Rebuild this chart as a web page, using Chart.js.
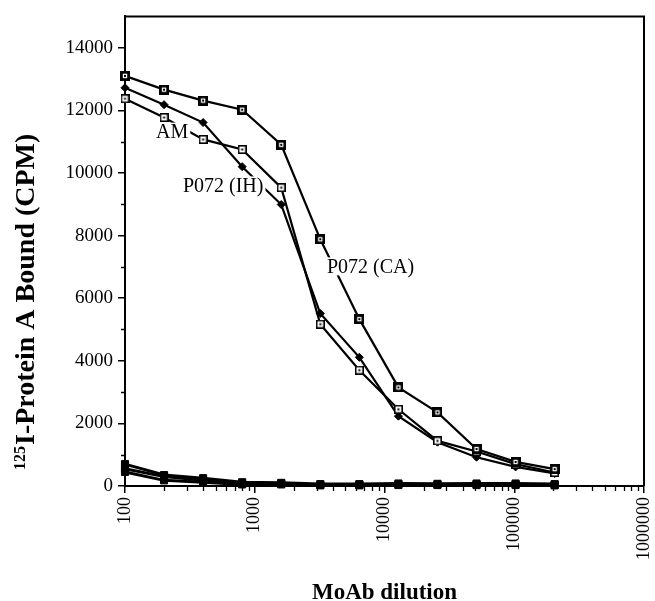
<!DOCTYPE html>
<html><head><meta charset="utf-8">
<script src="https://cdn.jsdelivr.net/npm/chart.js@4"></script>
<style>html,body{margin:0;padding:0;background:#fff}#wrap{width:655px;height:601px}</style>
</head><body><div id="wrap"><canvas id="c" width="655" height="601"></canvas></div>
<script>
// ---- data ----
const dilutions = [100, 200, 400, 800, 1600, 3200, 6400, 12800, 25600, 51200, 102400, 204800];
const p072CA = [13100, 12660, 12310, 12020, 10900, 7880, 5330, 3150, 2350, 1180, 770, 540];
const am     = [12370, 11770, 11070, 10750, 9530, 5170, 3700, 2450, 1440, 1100, 700, 430];
const p072IH = [12720, 12180, 11610, 10200, 8990, 5510, 4110, 2230, 1400, 920, 610, 400];
const control1 = [700, 350, 250, 120, 100, 60, 60, 80, 70, 80, 80, 60];
const control2 = [550, 300, 180, 80, 80, 40, 40, 50, 50, 50, 50, 40];
const control3 = [450, 180, 120, 50, 50, 20, 20, 30, 30, 30, 30, 20];
const xTickValues = [100, 1000, 10000, 100000, 1000000];
const yTickValues = [0, 2000, 4000, 6000, 8000, 10000, 12000, 14000];
const seriesNames = ['P072 (CA)', 'AM', 'P072 (IH)', 'Control 1', 'Control 2', 'Control 3'];
const xTitle = 'MoAb dilution';
const yTitleSup = '125';
const yTitleMain = 'I-Protein A Bound (CPM)';

// ---- marker styles ----
function boxMarker(size, lw, dot) {
  const c = document.createElement('canvas');
  c.width = size; c.height = size;
  const g = c.getContext('2d');
  g.fillStyle = '#fff'; g.fillRect(0, 0, size, size);
  g.strokeStyle = '#000'; g.lineWidth = lw;
  g.strokeRect(lw / 2, lw / 2, size - lw, size - lw);
  g.fillStyle = '#000';
  g.fillRect(size / 2 - dot / 2, size / 2 - dot / 2, dot, dot);
  return c;
}
const caMarker = boxMarker(10, 2.8, 2);
const amMarker = boxMarker(9, 1.6, 2);

function series(label, values, extra) {
  return Object.assign({
    label, data: values.map((v, i) => ({ x: dilutions[i], y: v })),
    borderColor: '#000', backgroundColor: '#000', borderWidth: 2.2, tension: 0, clip: false,
    pointBorderColor: '#000', pointBackgroundColor: '#000', pointBorderWidth: 1
  }, extra);
}

const datasets = [
  series(seriesNames[0], p072CA, { pointStyle: caMarker, pointRadius: 5 }),
  series(seriesNames[1], am, { pointStyle: amMarker, pointRadius: 5 }),
  series(seriesNames[2], p072IH, { pointStyle: 'rectRot', pointRadius: 4 }),
  series(seriesNames[3], control1, { pointStyle: 'rect', pointRadius: 5, borderWidth: 3 }),
  series(seriesNames[4], control2, { pointStyle: 'rect', pointRadius: 5, borderWidth: 3 }),
  series(seriesNames[5], control3, { pointStyle: 'rect', pointRadius: 5, borderWidth: 3 })
];

const annotations = [
  { text: 'AM', x: 231, y: 11320 },
  { text: 'P072 (IH)', x: 571, y: 9600 },
  { text: 'P072 (CA)', x: 7800, y: 7015 }
];

const extrasPlugin = {
  id: 'extras',
  afterDatasetsDraw(chart) {
    const { ctx, chartArea: a, scales: { x, y } } = chart;
    ctx.save();
    // frame top/right
    ctx.strokeStyle = '#000'; ctx.lineWidth = 2;
    ctx.beginPath();
    ctx.moveTo(a.left - 1, a.top); ctx.lineTo(a.right, a.top); ctx.lineTo(a.right, a.bottom);
    ctx.stroke();
    // minor ticks
    ctx.lineWidth = 1.3;
    ctx.beginPath();
    for (let v = 1000; v < 15000; v += 2000) {
      const py = Math.round(y.getPixelForValue(v)) + 0.5;
      ctx.moveTo(a.left - 4, py); ctx.lineTo(a.left, py);
    }
    for (let d = 100; d < 1000000; d *= 10) {
      for (let k = 2; k <= 9; k++) {
        const px = Math.round(x.getPixelForValue(k * d)) + 0.5;
        ctx.moveTo(px, a.bottom); ctx.lineTo(px, a.bottom + 5);
      }
    }
    ctx.stroke();
    // annotations with white background
    ctx.font = '20px "Liberation Serif"';
    ctx.textAlign = 'center'; ctx.textBaseline = 'middle';
    annotations.forEach(an => {
      const px = x.getPixelForValue(an.x), py = y.getPixelForValue(an.y);
      const w = ctx.measureText(an.text).width;
      ctx.fillStyle = '#fff';
      ctx.fillRect(px - w / 2 - 2, py - 9, w + 4, 18);
      ctx.fillStyle = '#000';
      ctx.fillText(an.text, px, py + 1);
    });
    // y axis title with superscript
    ctx.translate(25, 470);
    ctx.rotate(-Math.PI / 2);
    ctx.textAlign = 'left'; ctx.textBaseline = 'alphabetic';
    ctx.font = 'bold 16px "Liberation Serif"';
    ctx.fillText(yTitleSup, 0, 0);
    const sw = ctx.measureText(yTitleSup).width;
    ctx.font = 'bold 28px "Liberation Serif"';
    ctx.fillText(yTitleMain, sw + 1, 9);
    ctx.restore();
  }
};

new Chart(document.getElementById('c'), {
  type: 'line',
  data: { datasets },
  plugins: [extrasPlugin],
  options: {
    responsive: false, animation: false, devicePixelRatio: 1,
    layout: { padding: { left: 0, right: 0, top: 15, bottom: 0 } },
    plugins: { legend: { display: false }, tooltip: { enabled: false } },
    scales: {
      x: {
        type: 'logarithmic', min: 100, max: 1000000,
        afterBuildTicks: s => { s.ticks = xTickValues.map(v => ({ value: v, major: true })); },
        afterFit: s => { s.height = 115; s.paddingRight = 11; s.paddingLeft = 0; },
        ticks: {
          autoSkip: false, minRotation: 90, maxRotation: 90, padding: 4, color: '#000',
          font: { family: 'Liberation Serif', size: 18 },
          callback: v => String(v)
        },
        grid: { drawOnChartArea: false, drawTicks: true, tickLength: 7, color: '#000', lineWidth: 1.5 },
        border: { display: true, color: '#000', width: 2 },
        title: {
          display: true, text: xTitle, color: '#000',
          font: { family: 'Liberation Serif', size: 23, weight: 'bold', lineHeight: 1 },
          padding: { top: 0, bottom: -4 }
        }
      },
      y: {
        type: 'linear', min: 0, max: 15000,
        afterBuildTicks: s => { s.ticks = yTickValues.map(v => ({ value: v })); },
        afterFit: s => { s.width = 125; },
        ticks: {
          padding: 5, color: '#000',
          font: { family: 'Liberation Serif', size: 19 },
          callback: v => String(v)
        },
        grid: { drawOnChartArea: false, drawTicks: true, tickLength: 7, color: '#000', lineWidth: 1.5 },
        border: { display: true, color: '#000', width: 2 }
      }
    }
  }
});
</script></body></html>
